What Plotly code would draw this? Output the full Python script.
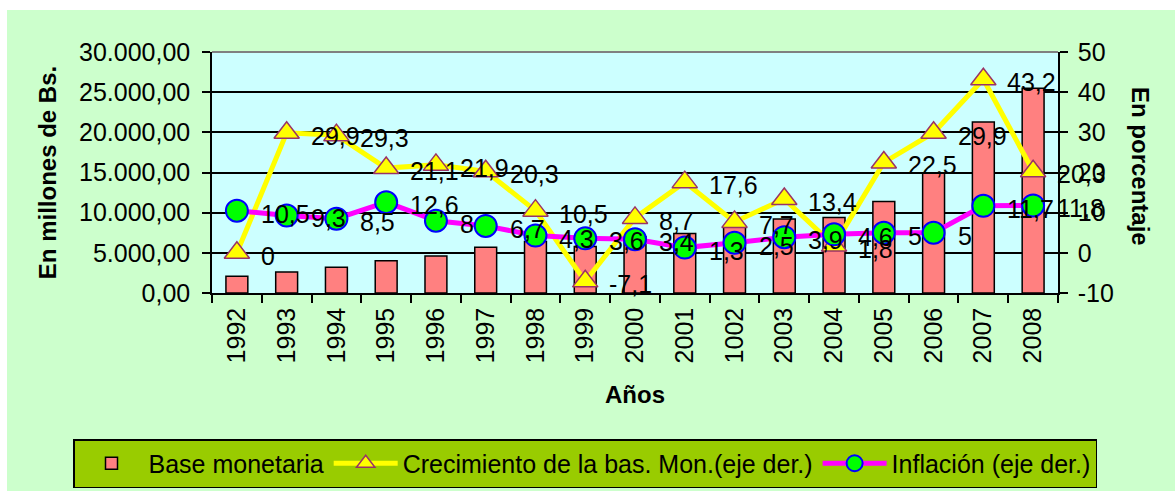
import plotly.graph_objects as go

# ---------------- data ----------------
years = ["1992", "1993", "1994", "1995", "1996", "1997", "1998", "1999", "2000",
         "2001", "1002", "2003", "2004", "2005", "2006", "2007", "2008"]
base_monetaria = [2100, 2600, 3200, 4000, 4600, 5700, 6400, 5800, 7000,
                  7400, 8200, 9200, 9400, 11400, 14900, 21300, 25500]
crecimiento = [0, 29.9, 29.3, 21.1, 21.9, 20.3, 10.5, -7.1, 8.7,
               17.6, 7.7, 13.4, 1.8, 22.5, 29.9, 43.2, 20.3]
inflacion = [10.5, 9.3, 8.5, 12.6, 8, 6.7, 4.3, 3.6, 3.4,
             1.3, 2.5, 3.9, 4.6, 5, 5, 11.7, 11.8]
left_ticks = [0, 5000, 10000, 15000, 20000, 25000, 30000]
right_ticks = [-10, 0, 10, 20, 30, 40, 50]


def lab(v):
    return f"{v:g}".replace(".", ",")


FONT = "Liberation Sans, Arial, sans-serif"

W, H = 1175, 491
L, R, T, B = 212, 1058, 52, 293
PW, PH = R - L, B - T


def px(x):  # picture x -> paper
    return (x - L) / PW


def py(y):  # picture y -> paper
    return (B - y) / PH


fig = go.Figure()

fig.add_trace(go.Bar(
    x=years, y=base_monetaria, name="Base monetaria",
    marker=dict(color="#FF8080", line=dict(color="black", width=1.5)),
    yaxis="y",
))

fig.add_trace(go.Scatter(
    x=years, y=crecimiento, name="Crecimiento de la bas. Mon.(eje der.)",
    mode="lines+markers", yaxis="y2",
    line=dict(color="#FFFF00", width=5),
    marker=dict(symbol="triangle-up", size=22, color="#FFFF00",
                line=dict(color="#993366", width=1.5)),
))

fig.add_trace(go.Scatter(
    x=years, y=inflacion, name="Inflación (eje der.)",
    mode="lines+markers", yaxis="y2",
    line=dict(color="#FF00FF", width=5),
    marker=dict(symbol="circle", size=22, color="#00FF00",
                line=dict(color="#0000FF", width=2)),
))

annotations = []
for series in (crecimiento, inflacion):
    for i, v in enumerate(series):
        annotations.append(dict(
            x=i, y=v, xref="x", yref="y2", text=lab(v), showarrow=False,
            xanchor="left", yanchor="middle", xshift=22, yshift=-3,
            font=dict(family=FONT, size=25, color="black"),
        ))

annotations.append(dict(
    x=px(1141), y=py(166), xref="paper", yref="paper", text="<b>En porcentaje</b>",
    showarrow=False, textangle=90, xanchor="center", yanchor="middle",
    font=dict(family=FONT, size=24, color="black"),
))

shapes = [
    # top border of plot area
    dict(type="line", xref="paper", yref="paper", x0=0, x1=1, y0=1, y1=1,
         line=dict(color="#808080", width=2), layer="above"),
    # white strips at the top and left edges of the picture
    dict(type="rect", xref="paper", yref="paper", x0=px(0), x1=px(W),
         y0=py(10), y1=py(0), fillcolor="white", line=dict(width=0), layer="below"),
    dict(type="rect", xref="paper", yref="paper", x0=px(0), x1=px(7),
         y0=py(H), y1=py(0), fillcolor="white", line=dict(width=0), layer="below"),
]

fig.update_layout(
    width=W, height=H,
    margin=dict(l=L, r=W - R, t=T, b=H - B, pad=0, autoexpand=False),
    paper_bgcolor="#CCFFCC",
    plot_bgcolor="#CCFFFF",
    separators=",.",
    font=dict(family=FONT, size=25, color="black"),
    bargap=0.56,
    showlegend=True,
    legend=dict(
        orientation="h", x=px(73), y=py(439), xanchor="left", yanchor="top",
        bgcolor="#99CC00", bordercolor="black", borderwidth=1.5,
        font=dict(family=FONT, size=25, color="black"),
        itemwidth=64, traceorder="normal",
    ),
    xaxis=dict(
        type="category", categoryorder="array", categoryarray=years,
        range=[-0.5, len(years) - 0.5], autorange=False, automargin=False,
        showline=True, linecolor="black", linewidth=1.5,
        ticks="outside", ticklen=8, tickwidth=1.5, tickcolor="black",
        tickson="boundaries", tickangle=-90, showgrid=False,
        ticklabelstandoff=3,
        tickfont=dict(family=FONT, size=25),
        title=dict(text="<b>Años</b>", font=dict(family=FONT, size=24), standoff=24),
    ),
    yaxis=dict(
        range=[0, 30000], tickvals=left_ticks, tickformat=",.2f", automargin=False,
        showgrid=True, gridcolor="black", gridwidth=1.5, zeroline=False,
        showline=True, linecolor="black", linewidth=1.5,
        ticks="outside", ticklen=8, tickwidth=1.5, tickcolor="black",
        ticklabelstandoff=7,
        tickfont=dict(family=FONT, size=25),
        title=dict(text="<b>En millones de Bs.</b>", font=dict(family=FONT, size=24), standoff=16),
    ),
    yaxis2=dict(
        overlaying="y", side="right", range=[-10, 50], automargin=False,
        tickvals=right_ticks, ticktext=[str(t) for t in right_ticks],
        showgrid=False, zeroline=False,
        showline=True, linecolor="black", linewidth=1.5,
        ticks="outside", ticklen=8, tickwidth=1.5, tickcolor="black",
        ticklabelstandoff=5,
        tickfont=dict(family=FONT, size=25),
    ),
    annotations=annotations,
    shapes=shapes,
)

# remove the browser's default page margin so the figure fills the window exactly
fig.write_html("out.html", config={"displayModeBar": False},
               post_script="document.body.style.margin='0';")
